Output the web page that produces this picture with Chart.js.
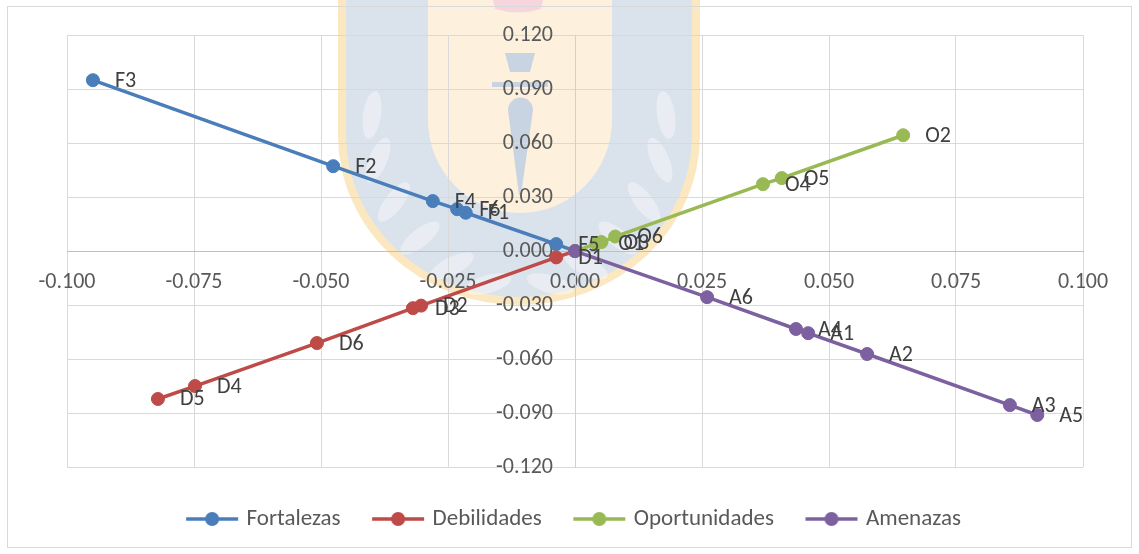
<!DOCTYPE html>
<html>
<head>
<meta charset="utf-8">
<title>Matriz FODA</title>
<script src="https://cdn.jsdelivr.net/npm/chart.js@4.4.1/dist/chart.umd.min.js"></script>
<style>
  html, body { margin: 0; padding: 0; background: #fff; }
  #contenedor { width: 1139px; height: 554px; }
</style>
</head>
<body>
<div id="contenedor"><canvas id="matrizChart"></canvas></div>
<script>
// Valores de cada factor, ordenados desde el origen hacia afuera
const series = ['Fortalezas', 'Debilidades', 'Oportunidades', 'Amenazas'];

const fortalezasEtiq = ['', 'F5', 'F1', 'F6', 'F4', 'F2', 'F3'];
const fortalezasX = [0, -0.0037, -0.0215, -0.0232, -0.0280, -0.0476, -0.0949];
const fortalezasY = [0, 0.0039, 0.0213, 0.0233, 0.0278, 0.0472, 0.0950];

const debilidadesEtiq = ['', 'D1', 'D2', 'D3', 'D6', 'D4', 'D5'];
const debilidadesX = [0, -0.0037, -0.0303, -0.0319, -0.0508, -0.0748, -0.0821];
const debilidadesY = [0, -0.0035, -0.0303, -0.0317, -0.0511, -0.0750, -0.0822];

const oportunidadesEtiq = ['', 'O1', 'O3', 'O6', 'O4', 'O5', 'O2'];
const oportunidadesX = [0, 0.0042, 0.0052, 0.0079, 0.0370, 0.0407, 0.0646];
const oportunidadesY = [0, 0.0042, 0.0050, 0.0081, 0.0372, 0.0406, 0.0644];

const amenazasEtiq = ['', 'A6', 'A4', 'A1', 'A2', 'A3', 'A5'];
const amenazasX = [0, 0.0260, 0.0435, 0.0459, 0.0575, 0.0856, 0.0910];
const amenazasY = [0, -0.0256, -0.0433, -0.0456, -0.0572, -0.0856, -0.0911];

// marcas de los ejes
const ejeX = [-0.100, -0.075, -0.050, -0.025, 0.000, 0.025, 0.050, 0.075, 0.100];
const ejeY = [-0.120, -0.090, -0.060, -0.030, 0.000, 0.030, 0.060, 0.090, 0.120];

const FUENTE = 'Carlito, Lato, sans-serif';

function puntos(xs, ys) {
    return xs.map((x, i) => ({ x: x, y: ys[i] }));
}

// icono de la leyenda: linea con un punto al centro
function iconoLeyenda(color) {
    const c = document.createElement('canvas');
    c.width = 54;
    c.height = 16;
    const g = c.getContext('2d');
    g.strokeStyle = color;
    g.lineWidth = 3.5;
    g.beginPath();
    g.moveTo(1, 8);
    g.lineTo(53, 8);
    g.stroke();
    g.fillStyle = color;
    g.beginPath();
    g.arc(27, 8, 7, 0, Math.PI * 2);
    g.fill();
    return c;
}

function escudo(ctx, cx, cy, rx, ry) {
    ctx.beginPath();
    ctx.moveTo(cx - rx, -5);
    ctx.lineTo(cx - rx, cy);
    ctx.ellipse(cx, cy, rx, ry, 0, Math.PI, 0, true);
    ctx.lineTo(cx + rx, -5);
    ctx.closePath();
}

// escudo tenue de fondo y marco exterior
const fondo = {
    id: 'fondo',
    beforeDraw(chart) {
        const ctx = chart.ctx;
        ctx.save();
        ctx.fillStyle = '#ffffff';
        ctx.fillRect(0, 0, chart.width, chart.height);

        escudo(ctx, 519, 135, 181, 170);
        ctx.fillStyle = '#fbe7c0';
        ctx.fill();
        escudo(ctx, 519, 135, 173, 162);
        ctx.fillStyle = '#dae2ec';
        ctx.fill();

        // hojas de laurel
        ctx.fillStyle = 'rgba(255,255,255,0.4)';
        const hojas = [[372, 115, 0.15], [378, 160, 0.4], [394, 202, 0.65], [420, 238, 0.9], [452, 266, 1.1], [488, 284, 1.3]];
        hojas.forEach(h => {
            [[h[0], h[2]], [1038 - h[0], -h[2]]].forEach(p => {
                ctx.beginPath();
                ctx.ellipse(p[0], h[1], 9, 24, p[1], 0, Math.PI * 2);
                ctx.fill();
            });
        });

        escudo(ctx, 520, 120, 92, 93);
        ctx.fillStyle = '#fdf1de';
        ctx.fill();

        // antorcha
        ctx.fillStyle = '#c9d4e2';
        ctx.beginPath();
        ctx.moveTo(505, 53);
        ctx.lineTo(535, 53);
        ctx.lineTo(530, 72);
        ctx.lineTo(510, 72);
        ctx.closePath();
        ctx.fill();
        ctx.fillRect(492, 82, 56, 5);
        ctx.beginPath();
        ctx.arc(520.5, 110, 12.5, Math.PI, 0);
        ctx.lineTo(521, 195);
        ctx.lineTo(519, 195);
        ctx.closePath();
        ctx.fill();

        ctx.fillStyle = '#f6d6dc';
        ctx.beginPath();
        ctx.moveTo(493, 0);
        ctx.lineTo(543, 0);
        ctx.lineTo(541, 9);
        ctx.quadraticCurveTo(518, 16, 495, 9);
        ctx.closePath();
        ctx.fill();

        ctx.strokeStyle = '#d9d9d9';
        ctx.lineWidth = 1;
        ctx.strokeRect(7.5, 6.5, 1124, 541);
        ctx.restore();
    }
};

// nombre de cada punto a su derecha
const etiquetas = {
    id: 'etiquetas',
    afterDatasetsDraw(chart) {
        const ctx = chart.ctx;
        ctx.save();
        ctx.font = '22px ' + FUENTE;
        ctx.fillStyle = '#404040';
        ctx.textBaseline = 'middle';
        ctx.textAlign = 'left';
        chart.data.datasets.forEach((ds, i) => {
            const meta = chart.getDatasetMeta(i);
            meta.data.forEach((pt, j) => {
                const txt = ds.etiquetas[j];
                if (txt) ctx.fillText(txt, pt.x + 22, pt.y + 1);
            });
        });
        ctx.restore();
    }
};

const colores = ['#4a7ebb', '#be4b48', '#98b954', '#7d60a0'];
const datos = [
    [fortalezasX, fortalezasY, fortalezasEtiq],
    [debilidadesX, debilidadesY, debilidadesEtiq],
    [oportunidadesX, oportunidadesY, oportunidadesEtiq],
    [amenazasX, amenazasY, amenazasEtiq]
];

const conjuntos = series.map((nombre, i) => ({
    label: nombre,
    data: puntos(datos[i][0], datos[i][1]),
    etiquetas: datos[i][2],
    showLine: true,
    borderColor: colores[i],
    backgroundColor: colores[i],
    borderWidth: 3.5,
    pointRadius: 6.5,
    pointBorderWidth: 1,
    pointHoverRadius: 6.5,
    order: series.length - i
}));

const ticksComunes = {
    color: '#595959',
    font: { family: FUENTE, size: 22 },
    autoSkip: false,
    maxRotation: 0,
    callback: v => Number(v).toFixed(3)
};

new Chart(document.getElementById('matrizChart'), {
    type: 'scatter',
    data: { datasets: conjuntos },
    options: {
        responsive: true,
        maintainAspectRatio: false,
        animation: false,
        layout: { padding: { left: 67, right: 56, top: 35, bottom: 13.5 } },
        scales: {
            x: {
                type: 'linear',
                position: 'center',
                min: ejeX[0],
                max: ejeX[ejeX.length - 1],
                afterBuildTicks: s => { s.ticks = ejeX.map(v => ({ value: v })); },
                grid: { color: '#d9d9d9', drawTicks: false },
                border: { color: '#bfbfbf', width: 1 },
                ticks: Object.assign({ padding: 18 }, ticksComunes)
            },
            y: {
                type: 'linear',
                position: 'center',
                min: ejeY[0],
                max: ejeY[ejeY.length - 1],
                afterBuildTicks: s => { s.ticks = ejeY.map(v => ({ value: v })); },
                grid: { color: '#d9d9d9', drawTicks: false },
                border: { color: '#d0d0d0', width: 1 },
                ticks: Object.assign({ padding: 22 }, ticksComunes)
            }
        },
        plugins: {
            legend: {
                position: 'bottom',
                // separa la fila de la leyenda del area del grafico
                title: { display: true, text: '', font: { size: 6, lineHeight: 1 }, padding: 0 },
                labels: {
                    usePointStyle: true,
                    pointStyleWidth: 46,
                    padding: 34.5,
                    color: '#595959',
                    font: { family: FUENTE, size: 23 },
                    sort: (a, b) => a.datasetIndex - b.datasetIndex,
                    generateLabels: chart => {
                        const base = Chart.defaults.plugins.legend.labels.generateLabels(chart);
                        return base.map(item => Object.assign(item, {
                            pointStyle: iconoLeyenda(colores[item.datasetIndex])
                        }));
                    }
                }
            },
            tooltip: { enabled: false }
        }
    },
    plugins: [fondo, etiquetas]
});
</script>
</body>
</html>
